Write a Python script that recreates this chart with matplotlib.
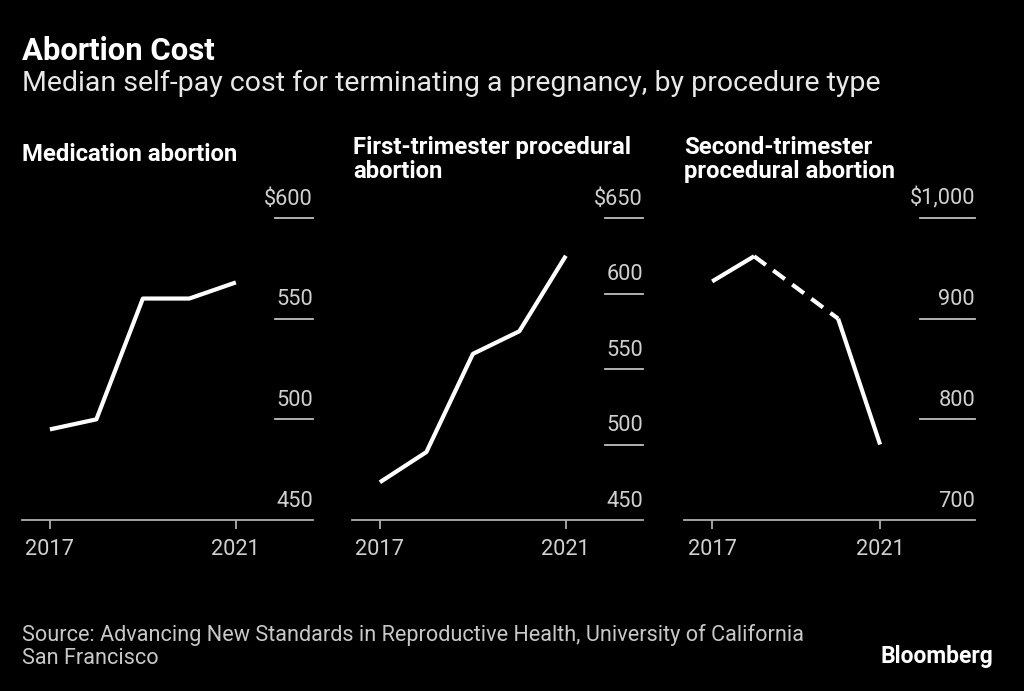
import matplotlib
matplotlib.use('Agg')
import matplotlib.pyplot as plt
import numpy as np

years = [2017, 2018, 2019, 2020, 2021]
medication = [495, 500, 560, 560, 568]
first_tri = [475, 495, 560, 575, 625]
second_tri = [937, 962, np.nan, 900, 775]

panel_titles = ['Medication abortion',
                'First-trimester procedural\nabortion',
                'Second-trimester\nprocedural abortion']
yticks_list = [[450, 500, 550, 600],
               [450, 500, 550, 600, 650],
               [700, 800, 900, 1000]]
ytick_labels = [['450', '500', '550', '$600'],
                ['450', '500', '550', '600', '$650'],
                ['700', '800', '900', '$1,000']]
xtick_years = [2017, 2021]

W, H = 1024, 691
BG = '#000000'
plt.rcParams['font.family'] = ['Roboto', 'DejaVu Sans']

fig = plt.figure(figsize=(W / 100, H / 100), dpi=100, facecolor=BG)


def fx(px):
    return px / W


def fy(py):
    return 1 - py / H


# axes placement in pixels; ty is baseline of the last title line
panels = [
    dict(left=22, right=313, xlim=(2016.40, 2022.66), gx=0.87, tx=22, ty=161),
    dict(left=352, right=643, xlim=(2016.40, 2022.66), gx=0.87, tx=353, ty=178),
    dict(left=684, right=975, xlim=(2016.33, 2023.26), gx=0.81, tx=684, ty=178),
]
series = [medication, first_tri, second_tri]
top_px, bot_px = 218, 520
tick_fs = 15.7

for i, p in enumerate(panels):
    ax = fig.add_axes([fx(p['left']), fy(bot_px), fx(p['right'] - p['left']),
                       (bot_px - top_px) / H])
    ax.set_facecolor(BG)
    ticks = yticks_list[i]
    ax.set_ylim(ticks[0], ticks[-1])
    ax.set_xlim(*p['xlim'])
    for s in ['top', 'right', 'left']:
        ax.spines[s].set_visible(False)
    ax.spines['bottom'].set_color('#b0b0b0')
    ax.spines['bottom'].set_linewidth(1.3)
    ax.set_yticks([])
    ax.set_xticks(xtick_years)
    ax.set_xticklabels([str(y) for y in xtick_years])
    ax.tick_params(axis='x', colors='#b0b0b0', length=6.5, width=1.3,
                   labelsize=tick_fs, labelcolor='#d0d0d0', pad=7)
    for v in ticks[1:]:
        ax.axhline(v, xmin=p['gx'], xmax=1, color='#c0c0c0', lw=1.3, clip_on=False)
    for v, lab in zip(ticks, ytick_labels[i]):
        ax.annotate(lab, xy=(1, v), xycoords=('axes fraction', 'data'),
                    xytext=(0, 9.5), textcoords='offset points',
                    ha='right', va='baseline', color='#d0d0d0', fontsize=tick_fs)

    vals = np.array(series[i], dtype=float)
    yrs = np.array(years)
    ax.plot(yrs, vals, color='white', lw=3, solid_capstyle='butt', clip_on=False)
    # dashed bridge over missing years
    ok = ~np.isnan(vals)
    idx = np.where(ok)[0]
    for a, b in zip(idx[:-1], idx[1:]):
        if b - a > 1:
            ax.plot([yrs[a], yrs[b]], [vals[a], vals[b]], color='white', lw=3,
                    linestyle=(0, (3.5, 2.2)), dash_capstyle='butt')

    fig.text(fx(p['tx']), fy(p['ty']), panel_titles[i], color='white',
             fontsize=17.2, fontweight='bold', ha='left', va='baseline',
             linespacing=1.08)

fig.text(fx(22), fy(60), 'Abortion Cost', color='white', fontsize=22.4,
         fontweight='bold', ha='left', va='baseline')
fig.text(fx(22), fy(91),
         'Median self-pay cost for terminating a pregnancy, by procedure type',
         color='#e8e8e8', fontsize=20.5, ha='left', va='baseline')
fig.text(fx(22), fy(664),
         'Source: Advancing New Standards in Reproductive Health, University of California\nSan Francisco',
         color='#c8c8c8', fontsize=15.6, ha='left', va='baseline', linespacing=1.1)
fig.text(fx(993), fy(663), 'Bloomberg', color='white', fontsize=16.5,
         fontweight='bold', ha='right', va='baseline')

fig.savefig('out.png', dpi=100, facecolor=BG)
